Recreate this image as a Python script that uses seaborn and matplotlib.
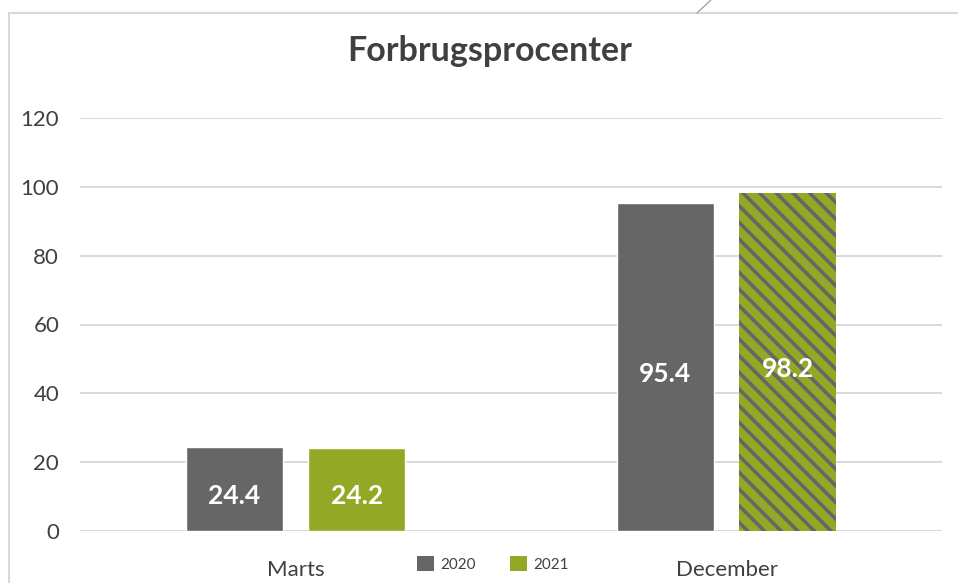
import pandas as pd
import seaborn as sns
import matplotlib.pyplot as plt
from matplotlib.patches import Rectangle, Patch
from matplotlib.lines import Line2D

# --- Data ---
MONTHS = ['Marts', 'December']
YEARS = ['2020', '2021']
VALUES_2020 = [24.4, 95.4]
VALUES_2021 = [24.2, 98.2]

COLORS = {'2020': '#666666', '2021': '#93A824'}
TEXT_GRAY = '#404040'
GRID_GRAY = '#d9d9d9'

df = pd.DataFrame({
    'Month': MONTHS * 2,
    'Year': [YEARS[0]] * 2 + [YEARS[1]] * 2,
    'Value': VALUES_2020 + VALUES_2021,
})

sns.set_style('white')
plt.rcParams['font.family'] = ['Lato', 'DejaVu Sans']
plt.rcParams['hatch.linewidth'] = 2.6
plt.rcParams['hatch.color'] = '#666666'

W, H = 958, 583
fig = plt.figure(figsize=(W / 100, H / 100), dpi=100)

# plot area in pixel coords: x 80..942, y(0)=531, y(120)=118
ax = fig.add_axes([80 / W, (H - 531) / H, (942 - 80) / W, (531 - 118) / H])

sns.barplot(
    data=df, x='Month', y='Value', hue='Year',
    palette=COLORS, width=0.57, gap=0.21, ax=ax, legend=False,
    saturation=1,
)

# striped December 2021 bar
dec_2021 = ax.containers[1][1]
dec_2021.set_hatch('\\\\')
dec_2021.set_edgecolor('#666666')
dec_2021.set_linewidth(0)

for cont in ax.containers:
    labels = ax.bar_label(cont, fmt='%.1f', label_type='center', color='white',
                          fontweight='bold', fontsize=19)
    for t in labels:
        t.xyann = (0, -5)   # Excel puts them a touch below the middle

ax.set_xlim(-0.5, 1.5)
ax.set_ylim(0, 120)
ax.set_yticks(range(0, 121, 20))
ax.grid(axis='y', color=GRID_GRAY, linewidth=1.4)
ax.set_axisbelow(True)
for s in ax.spines.values():
    s.set_visible(False)
ax.tick_params(axis='y', length=0, pad=15, labelsize=16, labelcolor=TEXT_GRAY)
ax.tick_params(axis='x', length=0, pad=21, labelsize=16, labelcolor=TEXT_GRAY)
ax.set_xlabel('')
ax.set_ylabel('')

fig.text(490 / W, 1 - 51 / H, 'Forbrugsprocenter', ha='center', va='center',
         fontsize=24.5, fontweight='bold', color=TEXT_GRAY)

# legend at bottom
handles = [Patch(facecolor=COLORS[y], edgecolor='none', label=y) for y in YEARS]
fig.legend(handles=handles, loc='center', bbox_to_anchor=(493 / W, 1 - 564 / H),
           ncol=2, frameon=False, fontsize=11, labelcolor=TEXT_GRAY,
           handlelength=1.1, handleheight=1.1, columnspacing=2.2, handletextpad=0.45)

# chart frame and stray connector line
fig.patches.append(Rectangle((9 / W, -0.1), 1.1, 1 - 13 / H + 0.1,
                             transform=fig.transFigure, fill=False,
                             edgecolor=GRID_GRAY, linewidth=1.5))
fig.lines.append(Line2D([697 / W, 711 / W], [1 - 13 / H, 1.0],
                        transform=fig.transFigure, color='#a6a6a6', linewidth=1))

fig.savefig('out.png', dpi=100)
